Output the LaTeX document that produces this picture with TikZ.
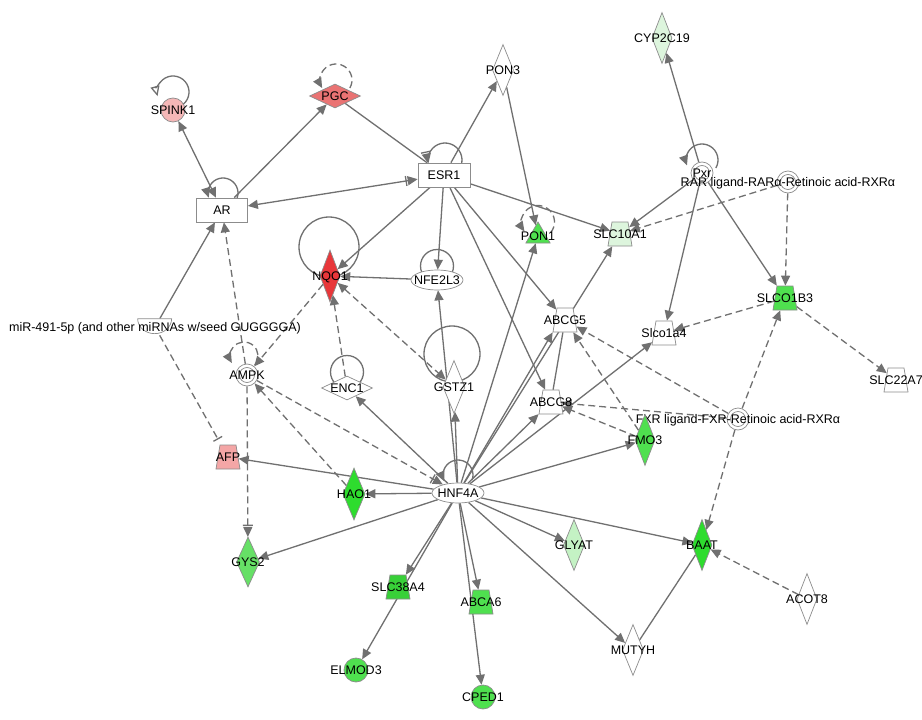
\documentclass[tikz,border=0pt]{standalone}
\usepackage{fontspec}
\setmainfont{Liberation Sans}
\usetikzlibrary{shapes.geometric,arrows.meta}
\pgfdeclarelayer{back}
\pgfdeclarelayer{bg}
\pgfsetlayers{back,bg,main}
\definecolor{edgec}{HTML}{707070}
\definecolor{nodec}{HTML}{8C8C8C}
\definecolor{pinkA}{HTML}{F5B7B7}
\definecolor{redB}{HTML}{EA7373}
\definecolor{redA}{HTML}{E8373A}
\definecolor{pinkB}{HTML}{F4A6A6}
\definecolor{grnL}{HTML}{DDF5DD}
\definecolor{grnM}{HTML}{4FE04F}
\definecolor{grnS}{HTML}{2EDC2E}
\definecolor{grnT}{HTML}{38D038}
\definecolor{grnN}{HTML}{66E066}
\definecolor{grnP}{HTML}{C4F2C4}
\newcommand\lbl[1]{\smash{\makebox[0pt]{\raisebox{-0.36em}{#1}}}}
\newcommand\nodeloop[7]{\draw[#7] ([shift={(#2,#3)},shift={(#5:#4)}]#1.center) arc[start angle=#5, end angle=#6, radius=#4];}
\tikzset{
 nd/.style={draw=nodec, line width=0.7pt, inner sep=0pt, fill=white, text=black, font=\fontsize{12.5}{15}\selectfont},
 vdia/.style={nd, diamond, minimum width=21pt, minimum height=51pt},
 hdia/.style={nd, diamond, minimum width=51pt, minimum height=24pt},
 gbox/.style={nd, rectangle, minimum width=51pt, minimum height=24pt},
 ell/.style={nd, ellipse, minimum width=52pt, minimum height=20pt},
 circ/.style={nd, circle, minimum size=24pt},
 dcirc/.style={nd, circle, minimum size=22pt, path picture={\draw[draw=nodec, line width=0.7pt] (path picture bounding box.center) circle[radius=7.5pt];}},
 trap/.style={nd, trapezium, trapezium angle=80.5, inner xsep=8pt, inner ysep=12pt},
 tri/.style={nd, regular polygon, regular polygon sides=3, minimum size=28pt},
 edge/.style={draw=edgec, line width=1.3pt},
 dsh/.style={dash pattern=on 7pt off 4pt},
 bararr/.style={-{Bar[width=10pt,sep=1pt]>}},
}
\begin{document}
\begin{tikzpicture}[x=1pt, y=1pt, >={Triangle[length=10pt,width=9pt]}]
\useasboundingbox (0,0) rectangle (922,-720);
\begin{pgfonlayer}{back}
\fill[white] (0,0) rectangle (922,-720);
\end{pgfonlayer}
% nodes
\node[gbox] (ar) at (222,-210) {\lbl{AR}};
\node[gbox, minimum width=52pt] (esr1) at (444,-175) {\lbl{ESR1}};
\node[circ, fill=pinkA] (spink1) at (173,-110) {\lbl{SPINK1}};
\node[hdia, fill=redB] (pgc) at (335,-96) {\lbl{PGC}};
\node[vdia] (pon3) at (503,-70) {\lbl{PON3}};
\node[vdia, minimum width=20pt, fill=grnL] (cyp2c19) at (662,-38) {\lbl{CYP2C19}};
\node[dcirc] (pxr) at (702,-173) {\lbl{Pxr}};
\node[dcirc] (rar) at (788,-182) {\lbl{RAR ligand-RARα-Retinoic acid-RXRα}};
\node[vdia, minimum width=20pt, minimum height=52pt, fill=redA] (nqo1) at (330,-276) {\lbl{NQO1}};
\node[ell] (nfe2l3) at (437,-280) {\lbl{NFE2L3}};
\node[tri, fill=grnM] (pon1) at (538,-236) {\lbl{PON1}};
\node[trap, fill=grnL] (slc10a1) at (620,-234) {\lbl{SLC10A1}};
\node[trap] (abcg5) at (565,-320) {\lbl{ABCG5}};
\node[trap] (slco1a4) at (664,-333) {\lbl{Slco1a4}};
\node[trap, fill=grnM] (slco1b3) at (785,-298) {\lbl{SLCO1B3}};
\node[trap] (slc22a7) at (896,-380) {\lbl{SLC22A7}};
\node[trap] (abcg8) at (551,-402) {\lbl{ABCG8}};
\node[dcirc] (fxr) at (738,-419) {\lbl{FXR ligand-FXR-Retinoic acid-RXRα}};
\node[vdia, minimum width=20pt, fill=grnM] (fmo3) at (645,-440) {\lbl{FMO3}};
\node[nd, draw=none, fill=none, rectangle, minimum width=34pt, minimum height=16pt] (mir) at (155,-327) {\lbl{miR-491-5p (and other miRNAs w/seed GUGGGGA)}};
\node[dcirc] (ampk) at (247,-375) {\lbl{AMPK}};
\node[hdia] (enc1) at (347,-388) {\lbl{ENC1}};
\node[vdia, minimum width=22pt, minimum height=53pt] (gstz1) at (454,-387) {\lbl{GSTZ1}};
\node[trap, fill=pinkB] (afp) at (228,-457) {\lbl{AFP}};
\node[vdia, minimum width=22pt, minimum height=52pt, fill=grnS] (hao1) at (354,-494) {\lbl{HAO1}};
\node[ell] (hnf4a) at (458,-493) {\lbl{HNF4A}};
\node[vdia, minimum width=23pt, minimum height=50pt, fill=grnN] (gys2) at (248,-562) {\lbl{GYS2}};
\node[trap, fill=grnT] (slc38a4) at (398,-587) {\lbl{SLC38A4}};
\node[trap, fill=grnM] (abca6) at (481,-602) {\lbl{ABCA6}};
\node[vdia, fill=grnP] (glyat) at (574,-545) {\lbl{GLYAT}};
\node[vdia, minimum width=20pt, fill=grnS] (baat) at (702,-545) {\lbl{BAAT}};
\node[vdia] (mutyh) at (633,-650) {\lbl{MUTYH}};
\node[vdia, minimum width=20pt] (acot8) at (807,-599) {\lbl{ACOT8}};
\node[circ, fill=grnM] (elmod3) at (356,-670) {\lbl{ELMOD3}};
\node[circ, fill=grnM] (cped1) at (483,-697) {\lbl{CPED1}};
\begin{pgfonlayer}{bg}
% loops
\nodeloop{spink1}{0}{18}{16}{-50}{195}{edge,-{Triangle[open,length=10pt,width=9pt]}}
\nodeloop{ar}{1}{17}{15}{-30}{198}{edge,->}
\nodeloop{pgc}{1}{16}{16}{-30}{210}{edge,dsh,->}
\nodeloop{esr1}{1}{15}{17}{-20}{192}{edge,bararr}
\nodeloop{ampk}{-3}{19}{14}{-40}{210}{edge,dsh,->}
\nodeloop{pon1}{0}{14}{16.5}{-40}{215}{edge,dsh,->}
\nodeloop{pxr}{0}{13}{16}{-30}{200}{edge,->}
\nodeloop{hnf4a}{0}{18}{15}{-20}{205}{edge,->}
\draw[edge] ([shift={(-1,29)}]nqo1.center) circle[radius=30];
\draw[edge] ([shift={(0,14)}]nfe2l3.center) circle[radius=16.5];
\draw[edge] ([shift={(0,16)}]enc1.center) circle[radius=16.5];
\draw[edge] ([shift={(-2,33)}]gstz1.center) circle[radius=28];
% edges
\draw[edge,<->] (spink1) -- (ar);
\draw[edge,->] (ar) -- (pgc);
\draw[edge] (pgc) -- (esr1);
\draw[edge,<-{Bar[width=10pt,sep=1pt]>}] (ar) -- (esr1);
\draw[edge,->] (esr1) -- (pon3);
\draw[edge,->] (esr1) -- (slc10a1);
\draw[edge,->] (esr1) -- (nfe2l3);
\draw[edge,->] (esr1) -- (nqo1);
\draw[edge,->] (esr1) -- (abcg5);
\draw[edge,->] (esr1) -- (abcg8);
\draw[edge,->] (pon3) -- (pon1);
\draw[edge,->] (pxr) -- (cyp2c19);
\draw[edge,->] (pxr) -- (slc10a1);
\draw[edge,->] (pxr) -- (slco1a4);
\draw[edge,->] (pxr) -- (slco1b3);
\draw[edge,dsh,->] (rar) -- (slc10a1);
\draw[edge,dsh,->] (rar) -- (slco1b3);
\draw[edge,->] (nfe2l3) -- (nqo1);
\draw[edge,dsh,->] (enc1) -- (nqo1);
\draw[edge,dsh,<->] (nqo1) -- (gstz1);
\draw[edge,dsh,->] (nqo1) -- (ampk);
\draw[edge,->] (mir) -- (ar);
\draw[edge,dsh,-{Bar[width=10pt]},shorten >=6pt] (mir) -- (afp);
\draw[edge,dsh,->] (ampk) -- (ar);
\draw[edge,dsh,bararr] (ampk) -- (gys2);
\draw[edge,dsh,bararr] (ampk) -- (hnf4a);
\draw[edge,dsh,->] (hao1) -- (ampk);
\draw[edge,->] (hnf4a) -- (afp);
\draw[edge,->] (hnf4a) -- (hao1);
\draw[edge,->] (hnf4a) -- (gys2);
\draw[edge,->] (hnf4a) -- (enc1);
\draw[edge,->] (hnf4a) -- (gstz1);
\draw[edge,->] (hnf4a) -- (nfe2l3);
\draw[edge,->] (hnf4a) -- (slc38a4);
\draw[edge,->] (hnf4a) -- (elmod3);
\draw[edge,->] (hnf4a) -- (abca6);
\draw[edge,->] (hnf4a) -- (cped1);
\draw[edge,->] (hnf4a) -- (glyat);
\draw[edge,->] (hnf4a) -- (baat);
\draw[edge,->] (hnf4a) -- (mutyh);
\draw[edge,->] (hnf4a) -- (fmo3);
\draw[edge,->] (hnf4a) -- (abcg8);
\draw[edge,->] (hnf4a) -- (abcg5.south west);
\draw[edge,->] (hnf4a) -- (slc10a1);
\draw[edge,->] (hnf4a) -- (slco1a4);
\draw[edge,->] (hnf4a) -- (pon1);
\draw[edge] (abcg8) -- (abcg5);
\draw[edge] (mutyh) -- (baat);
\draw[edge,dsh,->] (acot8) -- (baat);
\draw[edge,dsh,->] (fxr) -- (baat);
\draw[edge,dsh,->] (fxr) -- (abcg8);
\draw[edge,dsh,->] (fxr) -- (abcg5);
\draw[edge,dsh,->] (fxr) -- (slco1b3);
\draw[edge,dsh,->] (fmo3) -- (abcg8);
\draw[edge,dsh,->] (fmo3) -- (abcg5);
\draw[edge,dsh,->] (slco1b3) -- (slco1a4);
\draw[edge,dsh,->] (slco1b3) -- (slc22a7);
% microRNA bowl
\draw[draw=nodec, line width=0.7pt, fill=white] (mir.north west) arc[start angle=180, end angle=360, x radius=17pt, y radius=15pt] -- cycle;
\end{pgfonlayer}
\end{tikzpicture}
\end{document}
